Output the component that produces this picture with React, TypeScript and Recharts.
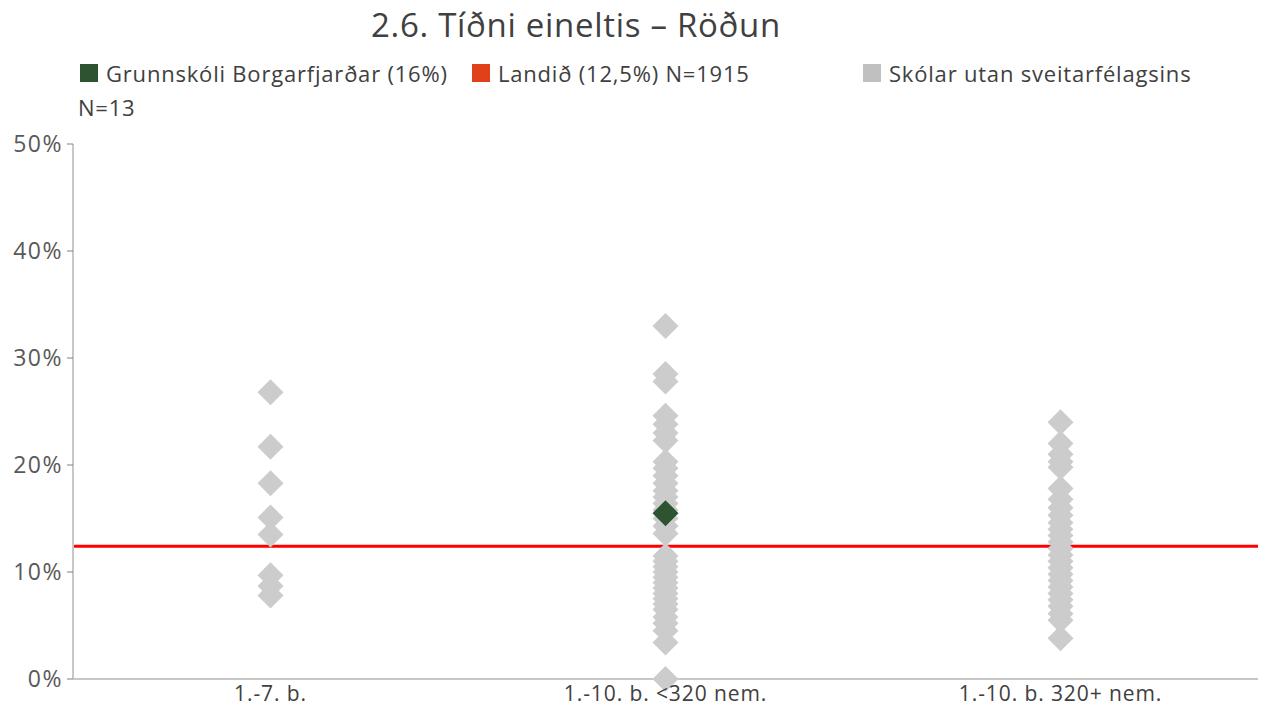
import { ScatterChart, Scatter, XAxis, YAxis, ReferenceLine } from 'recharts'

// Flokkar (x-ás)
const categories = ['1.-7. b.', '1.-10. b. <320 nem.', '1.-10. b. 320+ nem.']
const yTicks = [0, 10, 20, 30, 40, 50]

// Skólar utan sveitarfélagsins, % eftir flokki
const group1 = [26.8, 21.7, 18.3, 15.1, 13.5, 9.7, 8.7, 7.8]
const group2 = [
  33.0, 28.5, 27.8, 24.6, 23.8, 23.0, 22.3, 20.3, 19.7, 19.0, 18.3, 17.6, 17.0,
  16.4, 15.8, 15.0, 14.3, 13.6, 11.5, 11.0, 10.5, 10.0, 9.5, 9.0, 8.5, 8.0, 7.5,
  7.0, 6.5, 5.8, 5.2, 4.5, 3.4, 0.0,
]
const group3 = [
  24.0, 22.0, 21.0, 20.3, 19.8, 17.8, 16.8, 16.0, 15.3, 14.6, 14.0, 13.4, 12.8,
  12.2, 11.6, 11.0, 10.4, 9.8, 9.2, 8.6, 8.0, 7.4, 6.8, 6.1, 5.5, 3.8,
]

// Grunnskóli Borgarfjarðar og landið
const schoolCategory = 1
const schoolValue = 15.5
const nationalValue = 12.4

const others = [group1, group2, group3].flatMap((g, i) => g.map((v) => ({ x: i + 0.5, y: v })))
const school = [{ x: schoolCategory + 0.5, y: schoolValue }]

const FONT = '"Open Sans", Lato, sans-serif'

function Diamond(props: any) {
  const { cx, cy, fill } = props
  const r = 13
  return <polygon points={`${cx},${cy - r} ${cx + r},${cy} ${cx},${cy + r} ${cx - r},${cy}`} fill={fill} />
}

function LegendItem({ color, label, left, top }: { color: string; label: string; left: number; top: number }) {
  return (
    <div style={{ position: 'absolute', left, top, display: 'flex', alignItems: 'center', whiteSpace: 'nowrap' }}>
      <span style={{ width: 18, height: 18, background: color, display: 'inline-block', marginRight: 8 }} />
      <span>{label}</span>
    </div>
  )
}

export default function App() {
  return (
    <div style={{ position: 'absolute', left: 0, top: 0, width: 1266, height: 708, background: '#fff', fontFamily: FONT }}>
      <div
        style={{
          position: 'absolute', left: 0, width: 1152, top: 2, textAlign: 'center',
          fontSize: 33, letterSpacing: 0.7, color: '#404040',
        }}
      >
        2.6. Tíðni eineltis – Röðun
      </div>
      <div style={{ fontSize: 22, letterSpacing: 0.8, color: '#404040' }}>
        <LegendItem color="#2d5330" label="Grunnskóli Borgarfjarðar (16%)" left={80} top={58} />
        <LegendItem color="#e0401a" label="Landið (12,5%) N=1915" left={472} top={58} />
        <LegendItem color="#c0c0c0" label="Skólar utan sveitarfélagsins" left={863} top={58} />
        <div style={{ position: 'absolute', left: 78, top: 92 }}>N=13</div>
      </div>
      <div style={{ position: 'absolute', left: 0, top: 0 }}>
        <ScatterChart width={1266} height={708} margin={{ top: 144, right: 8, bottom: 0, left: 0 }}>
          <XAxis
            type="number"
            dataKey="x"
            domain={[0, 3]}
            ticks={[0.5, 1.5, 2.5]}
            tickFormatter={(v: number) => categories[Math.floor(v)]}
            height={29}
            tickLine={false}
            axisLine={{ stroke: '#c8c8c8', strokeWidth: 2 }}
            tick={{ fill: '#404040', fontSize: 21, letterSpacing: 0.9, fontFamily: FONT }}
            tickMargin={1}
          />
          <YAxis
            type="number"
            dataKey="y"
            domain={[0, 50]}
            ticks={yTicks}
            tickFormatter={(v: number) => `${v}%`}
            width={73}
            tickSize={6}
            tickMargin={4}
            axisLine={{ stroke: '#c8c8c8', strokeWidth: 2 }}
            tickLine={{ stroke: '#808080' }}
            tick={{ fill: '#595959', fontSize: 23, letterSpacing: 1.5, fontFamily: FONT }}
          />
          <ReferenceLine y={nationalValue} stroke="#ff0000" strokeWidth={3} />
          <Scatter data={others} fill="#cccccc" shape={Diamond} isAnimationActive={false} />
          <Scatter data={school} fill="#2d5330" shape={Diamond} isAnimationActive={false} />
        </ScatterChart>
      </div>
    </div>
  )
}
